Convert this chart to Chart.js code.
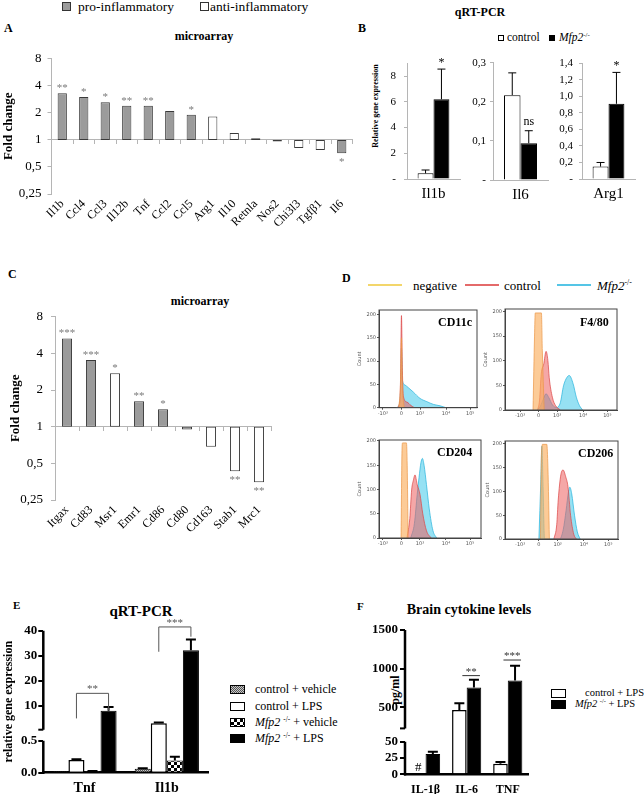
<!DOCTYPE html>
<html><head><meta charset="utf-8">
<script src="https://cdn.jsdelivr.net/npm/chart.js@4.4.1/dist/chart.umd.min.js"></script>
<style>
html,body{margin:0;padding:0}
body{width:644px;height:794px;position:relative;background:#fff;overflow:hidden;font-family:'Liberation Serif','DejaVu Serif',serif;color:#000}
canvas{position:absolute}
.t{position:absolute;white-space:nowrap;line-height:1;font-family:'Liberation Serif','DejaVu Serif',serif}
.b{font-weight:bold}
.sw{position:absolute;box-sizing:border-box}
sup{font-size:0.6em;vertical-align:0.6em;line-height:0}
</style></head><body>
<script>
// ================= DATA =================
// Panel A – microarray fold change
const genesA = ['Il1b','Ccl4','Ccl3','Il12b','Tnf','Ccl2','Ccl5','Arg1','Il10','Retnla','Nos2','Chi3l3','Tgfβ1','Il6'];
const foldA  = [3.3, 3.0, 2.63, 2.39, 2.39, 2.1, 1.9, 1.82, 1.19, 1.04, 0.96, 0.81, 0.77, 0.71];
const typeA  = ['pro','pro','pro','pro','pro','pro','pro','anti','anti','anti','pro','anti','anti','pro'];
const sigA   = ['**','*','*','**','**','','*','','','','','','','*'];
const foldTicks = [0.25, 0.5, 1, 2, 4, 8];
const foldTickLabels = ['0,25','0,5','1','2','4','8'];

// Panel B – qRT-PCR
const qGroupsB = ['Il1b','Il6','Arg1'];
const ctrlB    = [0.44, 0.217, 0.15];
const ctrlErrB = [0.26, 0.057, 0.05];
const mfpB     = [6.2, 0.094, 0.91];
const mfpErrB  = [2.35, 0.032, 0.38];
const sigB     = ['*','ns','*'];
const maxB     = [9, 0.3, 1.4];
const tickValsB = [[0,1,2,3,4,5,6,7,8,9],[0,0.1,0.2,0.3],[0,0.2,0.4,0.6,0.8,1.0,1.2,1.4]];
const tickLabsB = [['-','1','2','3','4','5','6','7','8','9'],['-','0,1','0,2','0,3'],['-','0,2','0,4','0,6','0,8','1,0','1,2','1,4']];

// Panel C – microarray fold change
const genesC = ['Itgax','Cd83','Msr1','Emr1','Cd86','Cd80','Cd163','Stab1','Mrc1'];
const foldC  = [5.3, 3.52, 2.74, 1.62, 1.39, 0.95, 0.685, 0.43, 0.35];
const typeC  = ['pro','pro','anti','pro','pro','pro','anti','anti','anti'];
const sigC   = ['***','***','*','**','*','','','**','**'];

// Panel D – flow cytometry histograms (x in display units of the biexponential axis)
const histTickVals = [-1, 0, 1, 2.4, 3.7];
const histTickLabels = ['-10³','0','10³','10⁴','10⁵'];
const countTicks = [0, 50, 100, 150, 200];
const countTickLabels = ['0','50','100','150','200'];
const cd11cNegX  = [-0.15, -0.05, 0, 0.05, 0.15];
const cd11cNegY  = [0, 50, 150, 50, 0];
const cd11cCtrlX = [-0.25, -0.1, -0.05, 0, 0.05, 0.1, 0.3, 0.5, 0.7];
const cd11cCtrlY = [0, 10, 60, 198, 80, 25, 12, 5, 0];
const cd11cMfpX  = [-0.3, -0.1, -0.03, 0, 0.05, 0.18, 0.4, 0.63, 1.0, 1.37, 1.73, 2.09, 2.4];
const cd11cMfpY  = [0, 8, 60, 128, 60, 49, 42, 34, 20, 13, 7, 4, 0];
const f480NegX  = [-0.3, -0.22, -0.18, 0.15, 0.2, 0.3];
const f480NegY  = [0, 150, 197, 197, 120, 0];
const f480CtrlX = [-0.05, 0.05, 0.14, 0.28, 0.4, 0.5, 0.57, 0.74, 0.91, 1.17];
const f480CtrlY = [0, 20, 73, 94, 119, 100, 66, 26, 9, 0];
const f480MfpX  = [-0.1, 0.1, 0.25, 0.4, 0.55, 0.75, 0.97, 1.17, 1.34, 1.52, 1.65, 1.86, 2.03, 2.2, 2.37];
const f480MfpY  = [0, 8, 22, 33, 25, 10, 5, 15, 49, 66, 70, 53, 26, 9, 0];
const cd204NegX  = [-0.02, 0.03, 0.06, 0.27, 0.31, 0.36];
const cd204NegY  = [0, 180, 196, 196, 150, 0];
const cd204CtrlX = [0.3, 0.45, 0.55, 0.65, 0.73, 0.85, 1.0, 1.15, 1.35, 1.6];
const cd204CtrlY = [0, 40, 99, 120, 130, 110, 90, 50, 15, 0];
const cd204MfpX  = [0.5, 0.7, 0.85, 0.95, 1.05, 1.13, 1.22, 1.35, 1.5, 1.7, 1.9];
const cd204MfpY  = [0, 30, 90, 125, 155, 164, 150, 110, 60, 15, 0];
const cd206NegX  = [0.08, 0.14, 0.2, 0.42, 0.48, 0.56];
const cd206NegY  = [0, 185, 199, 199, 150, 0];
const cd206CtrlX = [0.8, 0.95, 1.03, 1.17, 1.29, 1.43, 1.55, 1.69, 1.86, 2.0];
const cd206CtrlY = [0, 30, 82, 135, 145, 131, 110, 50, 10, 0];
const cd206MfpX  = [0.0, 0.1, 0.16, 0.22, 0.3, 1.1, 1.3, 1.45, 1.58, 1.65, 1.75, 1.9, 2.05, 2.2];
const cd206MfpY  = [0, 120, 195, 110, 0, 0, 20, 60, 100, 109, 95, 50, 15, 0];

// Panel E – qRT-PCR
const genesE = ['Tnf','Il1b'];
const seriesE = ['control + vehicle','control + LPS','<i>Mfp2</i> <sup>-/-</sup> + vehicle','<i>Mfp2</i> <sup>-/-</sup> + LPS'];
const ctrlVehE = [0.01, 0.06];  const ctrlVehErrE = [0, 0.01];
const ctrlLpsE = [0.2, 3.05];   const ctrlLpsErrE = [0.01, 0.3];
const mfpVehE  = [0.02, 0.19];  const mfpVehErrE  = [0.005, 0.06];
const mfpLpsE  = [8.1, 32.2];   const mfpLpsErrE  = [1.5, 4.3];
const ticksE = [0, 0.5, 10, 20, 30, 40];
const tickLabelsE = ['0.0','0.5','10','20','30','40'];
const bracketsE = [
  {cat: 0, from: 1, to: 3, top: 15, left: 5, right: 8.3, text: '**'},
  {cat: 1, from: 1, to: 3, top: 41.5, left: 31.6, right: 37.6, text: '***'}
];

// Panel F – brain cytokine levels (pg/ml)
const cytF = ['IL-1β','IL-6','TNF'];
const seriesF = ['control + LPS','<i>Mfp2</i> <sup>-/-</sup> + LPS'];
const ctrlF = [null, 465, 16];  const ctrlErrF = [0, 87, 3];
const mfpF  = [31, 756, 847];   const mfpErrF  = [3.7, 100, 190];
const ticksF = [0, 25, 50, 500, 1000, 1500];
const tickLabelsF = ['0','25','50','500','1000','1500'];
const sigLinesF = [{cat: 1, y: 909, text: '**'}, {cat: 2, y: 1111, text: '***'}];

// ================= SETUP =================
const FONT = "'Liberation Serif','DejaVu Serif',serif";
const GRAY = '#9b9b9b';
Chart.defaults.font.family = FONT;
Chart.defaults.color = '#000';
Chart.defaults.animation = false;
Chart.defaults.responsive = false;
Chart.defaults.devicePixelRatio = 1;
Chart.defaults.plugins.legend.display = false;
Chart.defaults.plugins.tooltip.enabled = false;

// broken (two-segment) linear axis
class BrokenScale extends Chart.LinearScale {
  toDec(v) {
    const b = this.options.brk, max = this.max;
    if (v <= b.low) return v / b.low * b.lowFrac;
    if (v < b.high) return b.lowFrac + (v - b.low) / (b.high - b.low) * (b.highFrac - b.lowFrac);
    return b.highFrac + (v - b.high) / (max - b.high) * (1 - b.highFrac);
  }
  getPixelForValue(v) {
    if (v === null || v === undefined || isNaN(v)) return NaN;
    return this.getPixelForDecimal(this.toDec(v));
  }
  getValueForPixel(p) {
    const d = this.getDecimalForPixel(p), b = this.options.brk;
    if (d <= b.lowFrac) return d / b.lowFrac * b.low;
    return b.high + (d - b.highFrac) / (1 - b.highFrac) * (this.max - b.high);
  }
}
BrokenScale.id = 'broken';
BrokenScale.defaults = {};
Chart.register(BrokenScale);

function txt(html, x, y, size, cls, anchor) {
  const d = document.createElement('div');
  d.className = 't ' + (cls || '');
  d.innerHTML = html;
  d.style.fontSize = size + 'px';
  d.style.left = x + 'px';
  d.style.top = (y - size * 0.5) + 'px';
  if (anchor === 'c') d.style.transform = 'translateX(-50%)';
  document.body.appendChild(d);
  return d;
}
function vtxt(html, cx, cy, size, cls) {
  const d = txt(html, cx, cy, size, cls);
  d.style.left = cx + 'px'; d.style.top = cy + 'px';
  d.style.transform = 'translate(-50%,-50%) rotate(-90deg)';
  return d;
}
function sw(x, y, w, h, style) {
  const d = document.createElement('div');
  d.className = 'sw';
  d.style.cssText = `left:${x}px;top:${y}px;width:${w}px;height:${h}px;${style}`;
  document.body.appendChild(d);
}
function place(box, area) {
  const c = document.createElement('canvas');
  c.width = box[2]; c.height = box[3];
  c.style.left = box[0] + 'px'; c.style.top = box[1] + 'px';
  document.body.appendChild(c);
  return { c, pad: { left: 0, top: area[1] - box[1], right: box[0] + box[2] - area[2], bottom: 0 },
           yW: area[0] - box[0], xH: box[1] + box[3] - area[3] };
}
const zeroPad = s => { s.paddingTop = 0; s.paddingBottom = 0; s.paddingLeft = 0; s.paddingRight = 0; };
const fitW = w => s => { s.width = w; zeroPad(s); };
const fitH = h => s => { s.height = h; zeroPad(s); };

function errPlugin(cap, lw) {
  return { id: 'errbars', afterDatasetsDraw(chart) {
    const ctx = chart.ctx; ctx.save(); ctx.strokeStyle = '#000'; ctx.lineWidth = lw;
    chart.data.datasets.forEach((ds, di) => {
      if (!ds.err) return;
      const meta = chart.getDatasetMeta(di), ys = chart.scales[meta.yAxisID];
      meta.data.forEach((bar, i) => {
        const v = ds.data[i], e = ds.err[i];
        if (v == null || !e) return;
        const y0 = ys.getPixelForValue(v), y1 = ys.getPixelForValue(v + e);
        ctx.beginPath(); ctx.moveTo(bar.x, y0); ctx.lineTo(bar.x, y1);
        ctx.moveTo(bar.x - cap, y1); ctx.lineTo(bar.x + cap, y1); ctx.stroke();
      });
    });
    ctx.restore(); } };
}
function starsPlugin(sigs, vals) {
  return { id: 'stars', afterDatasetsDraw(chart) {
    const ctx = chart.ctx, meta = chart.getDatasetMeta(0);
    ctx.save(); ctx.fillStyle = '#7a7a7a'; ctx.font = '11px ' + FONT; ctx.textAlign = 'center';
    meta.data.forEach((bar, i) => {
      const s = sigs[i]; if (!s) return;
      if (vals[i] >= 1) ctx.fillText(s, bar.x, Math.min(bar.y, bar.base) - 2);
      else ctx.fillText(s, bar.x, Math.max(bar.y, bar.base) + 12);
    });
    ctx.restore(); } };
}

// ---------- fold-change bar chart (A, C) ----------
function foldChart(box, area, labels, vals, types, sigs, opt) {
  const p = place(box, area);
  return new Chart(p.c, {
    type: 'bar',
    data: { labels, datasets: [{ data: vals.map(v => [1, v]),
      backgroundColor: types.map(t => t === 'pro' ? GRAY : '#fff'),
      borderColor: '#3a3a3a', borderWidth: 1, borderSkipped: false,
      barPercentage: opt.barPct, categoryPercentage: 1 }] },
    options: {
      layout: { padding: p.pad },
      scales: {
        y: { type: 'logarithmic', min: 0.25, max: 8,
          afterBuildTicks: s => { s.ticks = foldTicks.map(v => ({ value: v })); },
          ticks: { callback: (v, i) => foldTickLabels[i], font: { size: 13 }, padding: opt.tickPad },
          grid: { drawOnChartArea: false, tickLength: 4, color: '#b5b5b5' },
          border: { color: '#b5b5b5' },
          title: { display: true, text: 'Fold change', font: { size: 13, weight: 'bold' }, padding: { top: opt.titlePad, bottom: 0 } },
          afterFit: fitW(p.yW) },
        x: { type: 'category', position: { y: 1 }, offset: true, ticks: { display: false },
          grid: { offset: true, drawOnChartArea: false, tickLength: 4, color: '#b5b5b5' },
          border: { color: '#b5b5b5' } },
        xl: { type: 'category', position: 'bottom', offset: true,
          grid: { display: false, drawTicks: false }, border: { display: false },
          ticks: { font: { size: 12 }, minRotation: 45, maxRotation: 45, autoSkip: false, padding: opt.labelPad },
          afterFit: fitH(p.xH) }
      }
    },
    plugins: [starsPlugin(sigs, vals)]
  });
}

// ---------- qRT-PCR small charts (B) ----------
function qChart(i, box, area, tickPad) {
  const p = place(box, area);
  const mark = { id: 'topMark', afterDatasetsDraw(chart) {
    const ds = chart.data.datasets[1], bar = chart.getDatasetMeta(1).data[0], ys = chart.scales.y;
    const y = ys.getPixelForValue(ds.data[0] + ds.err[0]);
    const ctx = chart.ctx; ctx.save(); ctx.fillStyle = '#000'; ctx.textAlign = 'center';
    ctx.font = '12px ' + FONT;
    ctx.fillText(sigB[i], bar.x, sigB[i] === 'ns' ? y - 6 : y - 3);
    ctx.restore(); } };
  return new Chart(p.c, {
    type: 'bar',
    data: { labels: [qGroupsB[i]], datasets: [
      { data: [ctrlB[i]], err: [ctrlErrB[i]], backgroundColor: '#fff', borderColor: '#000', borderWidth: 1 },
      { data: [mfpB[i]], err: [mfpErrB[i]], backgroundColor: '#000', borderColor: '#000', borderWidth: 1 } ] },
    options: {
      layout: { padding: p.pad },
      datasets: { bar: { categoryPercentage: 0.6, barPercentage: 1 } },
      scales: {
        x: { grid: { display: false, drawTicks: false }, border: { color: '#b5b5b5' },
          ticks: { font: { size: 15 }, padding: 6 }, afterFit: fitH(p.xH) },
        y: { min: 0, max: maxB[i],
          afterBuildTicks: s => { s.ticks = tickValsB[i].map(v => ({ value: v })); },
          ticks: { callback: (v, j) => tickLabsB[i][j], font: { size: 11 }, padding: tickPad },
          grid: { drawOnChartArea: false, tickLength: 3, color: '#b5b5b5' },
          border: { color: '#b5b5b5' }, afterFit: fitW(p.yW) }
      }
    },
    plugins: [errPlugin(4, 1), mark]
  });
}

// ---------- histograms (D) ----------
const frame = { id: 'frame', afterDraw(chart) {
  const a = chart.chartArea, ctx = chart.ctx;
  ctx.save(); ctx.strokeStyle = '#444'; ctx.lineWidth = 1;
  ctx.strokeRect(a.left, a.top, a.right - a.left, a.bottom - a.top); ctx.restore(); } };
const histStyles = [
  { fill: 'rgba(250,175,95,0.65)', line: 'rgba(235,150,70,0.9)' },
  { fill: 'rgba(236,95,95,0.55)', line: 'rgba(220,70,70,0.9)' },
  { fill: 'rgba(80,205,235,0.6)', line: 'rgba(40,180,220,0.9)' }
];
function histo(box, area, xMin, xMax, yMax, series) {
  const p = place(box, area);
  const small = { size: 5, family: "'DejaVu Sans',sans-serif" };
  return new Chart(p.c, {
    type: 'line',
    data: { datasets: series.map((s, k) => ({
      data: s[0].map((x, i) => ({ x, y: s[1][i] })),
      fill: 'origin', backgroundColor: histStyles[k].fill, borderColor: histStyles[k].line,
      borderWidth: 0.8, pointRadius: 0, cubicInterpolationMode: 'monotone' })) },
    options: {
      layout: { padding: p.pad },
      scales: {
        x: { type: 'linear', min: xMin, max: xMax,
          afterBuildTicks: s => { s.ticks = histTickVals.map(v => ({ value: v })); },
          ticks: { callback: (v, i) => histTickLabels[i], font: small, color: '#555', padding: 1, maxRotation: 0, autoSkip: false },
          grid: { drawOnChartArea: false, tickLength: 2, color: '#555' }, border: { color: '#444' },
          afterFit: fitH(p.xH) },
        y: { min: 0, max: yMax,
          afterBuildTicks: s => { s.ticks = countTicks.map(v => ({ value: v })); },
          ticks: { callback: (v, i) => countTickLabels[i], font: small, color: '#555', padding: 1 },
          grid: { drawOnChartArea: false, tickLength: 2, color: '#555' }, border: { color: '#444' },
          title: { display: true, text: 'Count', font: small, color: '#555', padding: { top: 2, bottom: 0 } },
          afterFit: fitW(p.yW) }
      }
    },
    plugins: [frame]
  });
}

// ---------- broken-axis plugin (E, F) ----------
const brokenAxis = { id: 'brokenAxis', afterDraw(chart) {
  const s = chart.scales.y, b = s.options.brk, ctx = chart.ctx, x = chart.chartArea.left;
  const yh = s.getPixelForDecimal(b.highFrac);
  ctx.save(); ctx.strokeStyle = '#000'; ctx.lineWidth = 2.5; ctx.beginPath();
  ctx.moveTo(x, s.getPixelForValue(0) + 1.2); ctx.lineTo(x, s.getPixelForValue(b.low));
  ctx.moveTo(x, yh); ctx.lineTo(x, s.getPixelForDecimal(1));
  ctx.stroke();
  ctx.lineWidth = 2; ctx.beginPath(); ctx.moveTo(x - 5, yh); ctx.lineTo(x, yh); ctx.stroke();
  ctx.restore(); } };

// ================= DRAW =================
// ---- Panel A ----
sw(62, 2, 9, 9, `background:${GRAY};border:1px solid #333`);
txt('pro-inflammatory', 78, 7, 13.5);
sw(200, 2, 9, 9, 'background:#fff;border:1px solid #333');
txt('anti-inflammatory', 210, 7, 13.5);
txt('A', 4, 28, 12, 'b');
txt('microarray', 204, 36, 12, 'b', 'c');
foldChart([0, 45, 362, 200], [51.5, 58.7, 352.5, 194], genesA, foldA, typeA, sigA,
  { barPct: 0.43, tickPad: 6, titlePad: 1, labelPad: 3 });

// ---- Panel B ----
txt('qRT-PCR', 480, 12, 12, 'b', 'c');
txt('B', 358, 28, 12, 'b');
sw(498, 35, 6, 6, 'background:#fff;border:1px solid #000');
txt('control', 507, 38, 11.5);
sw(549, 35, 6, 6, 'background:#000');
txt('<i>Mfp2</i><sup>-/-</sup>', 559, 38, 11.5);
vtxt('Relative gene expression', 376, 106, 8, 'b');
qChart(0, [380, 50, 85, 155], [407, 63.3, 460, 179], 8);
qChart(1, [465, 50, 87, 155], [493, 62.7, 548, 180], 4);
qChart(2, [552, 50, 90, 155], [582, 63.3, 635, 179], 6);

// ---- Panel C ----
txt('C', 8, 274, 12, 'b');
txt('microarray', 200, 301, 12, 'b', 'c');
foldChart([0, 290, 290, 245], [55, 316.7, 271, 500], genesC, foldC, typeC, sigC,
  { barPct: 0.42, tickPad: 8, titlePad: 8, labelPad: 3 });

// ---- Panel D ----
txt('D', 342, 278, 12, 'b');
sw(368, 284, 34, 2, 'background:#f3d66b');
txt('negative', 413, 285, 13);
sw(465, 284, 34, 2, 'background:#e46a6a');
txt('control', 504, 285, 13);
sw(557, 284, 34, 2, 'background:#55c5e6');
txt('<i>Mfp2</i><sup>-/-</sup>', 597, 285, 13);
histo([355, 302, 125, 123], [379, 310, 477, 407.7], -1.21, 4.07, 210,
  [[cd11cNegX, cd11cNegY], [cd11cCtrlX, cd11cCtrlY], [cd11cMfpX, cd11cMfpY]]);
histo([481, 302, 141, 123], [505, 309, 617, 410], -1.81, 4.22, 205,
  [[f480NegX, f480NegY], [f480CtrlX, f480CtrlY], [f480MfpX, f480MfpY]]);
histo([355, 432, 128, 123], [379, 440, 481, 538], -1.21, 4.29, 202,
  [[cd204NegX, cd204NegY], [cd204CtrlX, cd204CtrlY], [cd204MfpX, cd204MfpY]]);
histo([483, 432, 140, 123], [505, 441, 618, 539], -1.81, 4.22, 206,
  [[cd206NegX, cd206NegY], [cd206CtrlX, cd206CtrlY], [cd206MfpX, cd206MfpY]]);
txt('CD11c', 438, 322, 12, 'b');
txt('F4/80', 580, 322, 12, 'b');
txt('CD204', 437, 452, 12, 'b');
txt('CD206', 578, 453, 12, 'b');

// ---- Panel E ----
txt('E', 13, 605, 11, 'b');
txt('qRT-PCR', 141, 611, 15, 'b', 'c');
(function () {
  const mk = (a, b, s) => { const c = document.createElement('canvas'); c.width = c.height = s * 2;
    const x = c.getContext('2d'); x.fillStyle = b; x.fillRect(0, 0, s * 2, s * 2); x.fillStyle = a;
    x.fillRect(0, 0, s, s); x.fillRect(s, s, s, s); return x.createPattern(c, 'repeat'); };
  const patGray = mk('#555', '#c8c8c8', 1);
  const patCheck = mk('#000', '#fff', 3);
  const p = place([0, 600, 215, 194], [43.3, 630.7, 208, 772.7]);
  const brackets = { id: 'brackets', afterDatasetsDraw(chart) {
    const ys = chart.scales.y, ctx = chart.ctx;
    ctx.save(); ctx.strokeStyle = '#555'; ctx.lineWidth = 1; ctx.fillStyle = '#555';
    ctx.font = '11px ' + FONT; ctx.textAlign = 'center';
    bracketsE.forEach(b => {
      const x1 = chart.getDatasetMeta(b.from).data[b.cat].x, x2 = chart.getDatasetMeta(b.to).data[b.cat].x;
      const yt = ys.getPixelForValue(b.top);
      ctx.beginPath(); ctx.moveTo(x1, ys.getPixelForValue(b.left)); ctx.lineTo(x1, yt);
      ctx.lineTo(x2, yt); ctx.lineTo(x2, ys.getPixelForValue(b.right)); ctx.stroke();
      ctx.fillText(b.text, (x1 + x2) / 2, yt - 1);
    });
    ctx.restore(); } };
  new Chart(p.c, {
    type: 'bar',
    data: { labels: genesE, datasets: [
      { data: ctrlVehE, err: ctrlVehErrE, backgroundColor: patGray, borderColor: '#000', borderWidth: 1 },
      { data: ctrlLpsE, err: ctrlLpsErrE, backgroundColor: '#fff', borderColor: '#000', borderWidth: 1.5 },
      { data: mfpVehE, err: mfpVehErrE, backgroundColor: patCheck, borderColor: '#000', borderWidth: 1 },
      { data: mfpLpsE, err: mfpLpsErrE, backgroundColor: '#000', borderColor: '#000', borderWidth: 1 } ] },
    options: {
      layout: { padding: p.pad },
      datasets: { bar: { categoryPercentage: 0.78, barPercentage: 1 } },
      scales: {
        x: { grid: { display: false, drawTicks: false }, border: { color: '#000', width: 2.5 },
          ticks: { font: { size: 14, weight: 'bold' }, padding: 7 }, afterFit: fitH(p.xH) },
        y: { type: 'broken', min: 0, max: 40,
          brk: { low: 0.5, high: 0.5, lowFrac: 32 / 142, highFrac: 43 / 142 },
          afterBuildTicks: s => { s.ticks = ticksE.map(v => ({ value: v })); },
          ticks: { callback: (v, i) => tickLabelsE[i], font: { size: 13, weight: 'bold' }, padding: 1 },
          grid: { drawOnChartArea: false, tickLength: 5, lineWidth: 2, color: '#000' },
          border: { display: false },
          title: { display: true, text: 'relative gene expression', font: { size: 12, weight: 'bold' }, padding: { top: 2, bottom: 0 } },
          afterFit: fitW(p.yW) }
      }
    },
    plugins: [brokenAxis, errPlugin(5, 2), brackets]
  });
  const legStyles = [
    'background:repeating-conic-gradient(#555 0 25%, #c8c8c8 0 50%) 0 0/2px 2px;border:1px solid #000',
    'background:#fff;border:1.5px solid #000',
    'background:repeating-conic-gradient(#000 0 25%, #fff 0 50%) 0 0/6px 6px;border:1px solid #000',
    'background:#000'];
  const rowsE = [689, 706, 722, 738];
  seriesE.forEach((s, i) => { sw(230, rowsE[i] - 4.5, 15, 9, legStyles[i]); txt(s, 255, rowsE[i], 12); });
})();

// ---- Panel F ----
txt('F', 357, 606, 11, 'b');
txt('Brain cytokine levels', 469, 610, 14, 'b', 'c');
vtxt('pg/ml', 395, 690, 12, 'b');
(function () {
  const p = place([340, 600, 195, 194], [405, 630, 528.3, 774.3]);
  const marks = { id: 'marksF', afterDatasetsDraw(chart) {
    const ys = chart.scales.y, ctx = chart.ctx;
    ctx.save(); ctx.strokeStyle = '#333'; ctx.lineWidth = 1; ctx.fillStyle = '#333';
    ctx.font = '11px ' + FONT; ctx.textAlign = 'center';
    sigLinesF.forEach(m => {
      const x1 = chart.getDatasetMeta(0).data[m.cat].x + 3, x2 = chart.getDatasetMeta(1).data[m.cat].x + 6;
      const y = ys.getPixelForValue(m.y);
      ctx.beginPath(); ctx.moveTo(x1, y); ctx.lineTo(x2, y); ctx.stroke();
      ctx.fillText(m.text, (x1 + x2) / 2, y - 1);
    });
    ctrlF.forEach((v, i) => {
      if (v !== null) return;
      ctx.fillStyle = '#000'; ctx.font = '13px ' + FONT;
      ctx.fillText('#', chart.getDatasetMeta(0).data[i].x, ys.getPixelForValue(0) - 3);
    });
    ctx.restore(); } };
  new Chart(p.c, {
    type: 'bar',
    data: { labels: cytF, datasets: [
      { data: ctrlF, err: ctrlErrF, backgroundColor: '#fff', borderColor: '#000', borderWidth: 1.5 },
      { data: mfpF, err: mfpErrF, backgroundColor: '#000', borderColor: '#000', borderWidth: 1 } ] },
    options: {
      layout: { padding: p.pad },
      datasets: { bar: { categoryPercentage: 0.71, barPercentage: 1 } },
      scales: {
        x: { grid: { display: false, drawTicks: false }, border: { color: '#000', width: 2.5 },
          ticks: { font: { size: 12, weight: 'bold' }, padding: 8 }, afterFit: fitH(p.xH) },
        y: { type: 'broken', min: 0, max: 1500,
          brk: { low: 50, high: 225, lowFrac: 32.6 / 144.3, highFrac: 45.9 / 144.3 },
          afterBuildTicks: s => { s.ticks = ticksF.map(v => ({ value: v })); },
          ticks: { callback: (v, i) => tickLabelsF[i], font: { size: 13, weight: 'bold' }, padding: 2 },
          grid: { drawOnChartArea: false, tickLength: 5, lineWidth: 2, color: '#000' },
          border: { display: false }, afterFit: fitW(p.yW) }
      }
    },
    plugins: [brokenAxis, errPlugin(5, 2), marks]
  });
  const legF = ['background:#fff;border:1.5px solid #000', 'background:#000'];
  const rowsF = [693, 704];
  seriesF.forEach((s, i) => { sw(551, rowsF[i] - 4.5, 15, 9, legF[i]); txt(s, i === 0 ? 585 : 575, rowsF[i], 10.5); });
})();
</script>
</body></html>
